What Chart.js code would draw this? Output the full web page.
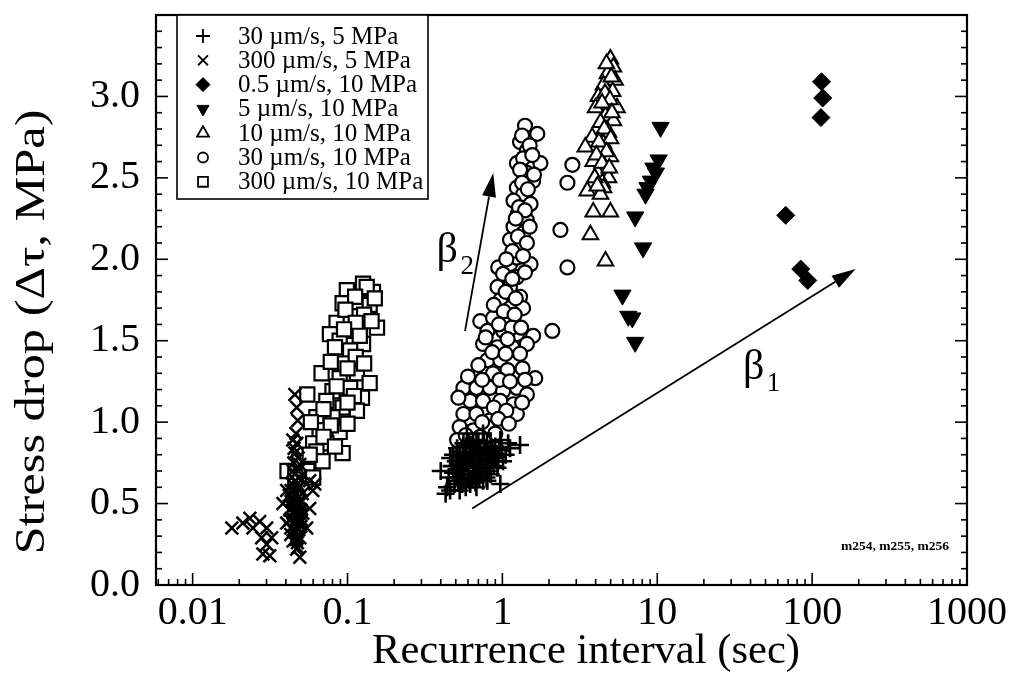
<!DOCTYPE html>
<html>
<head>
<meta charset="utf-8">
<script src="https://cdn.jsdelivr.net/npm/chart.js@4/dist/chart.umd.min.js"></script>
<style>
  html, body { margin: 0; padding: 0; background: #fff; }
</style>
</head>
<body>
<canvas id="chart" width="1015" height="675"></canvas>
<script>
// legend / series names
const seriesLabels = [
    '30 \u00b5m/s, 5 MPa',
    '300 \u00b5m/s, 5 MPa',
    '0.5 \u00b5m/s, 10 MPa',
    '5 \u00b5m/s, 10 MPa',
    '10 \u00b5m/s, 10 MPa',
    '30 \u00b5m/s, 10 MPa',
    '300 \u00b5m/s, 10 MPa'
];

// [recurrence interval (s), stress drop (MPa)]
const plus30v5 = [
    [0.40,0.70],[0.46,0.78],[0.44,0.60],[0.51,0.84],[0.53,0.72],[0.56,0.64],[0.62,0.81],
    [0.65,0.68],[0.68,0.89],[0.72,0.76],[0.80,0.84],[0.83,0.70],[0.87,0.81],[0.97,0.89],
    [0.93,0.72],[1.12,0.84],[1.01,0.76],[0.48,0.69],[0.59,0.93],[0.75,0.93],[0.53,0.58],
    [0.68,0.60],[0.59,0.76],[0.97,0.62],[1.09,0.87],[0.80,0.64],[0.43,0.56],[0.55,0.74],
    [0.60,0.70],[0.64,0.77],[0.70,0.72],[0.74,0.80],[0.78,0.70],[0.58,0.85],[0.66,0.82],
    [0.50,0.66],[0.71,0.66],[0.85,0.77],[0.62,0.62],[0.90,0.85],[0.47,0.73],[0.76,0.87],
    [1.30,0.86],[0.45,0.66],[0.49,0.62],[0.52,0.79],[0.54,0.68],[0.57,0.80],[0.58,0.60],
    [0.61,0.74],[0.63,0.86],[0.66,0.72],[0.67,0.63],[0.69,0.78],[0.72,0.84],[0.73,0.70],
    [0.77,0.76],[0.79,0.66],[0.82,0.80],[0.88,0.73],[0.92,0.79],[0.95,0.83],[1.05,0.80],
    [0.56,0.87],[0.46,0.58],[0.51,0.71],[0.64,0.65],[0.70,0.88],[0.84,0.88],[0.50,0.76],
    [0.53,0.82],[0.55,0.62],[0.57,0.70],[0.60,0.66],[0.61,0.88],[0.63,0.78],[0.65,0.74],
    [0.67,0.84],[0.69,0.69],[0.71,0.80],[0.74,0.74],[0.75,0.64],[0.78,0.82],[0.81,0.74],
    [0.84,0.68],[0.86,0.84],[0.89,0.78],[0.94,0.76],[0.99,0.84],[0.52,0.64],[0.48,0.80]
];
const cross300v5 = [
    [0.0179,0.35],[0.0211,0.38],[0.0234,0.41],[0.0245,0.35],[0.0271,0.39],[0.0301,0.35],
    [0.0279,0.29],[0.0301,0.25],[0.0284,0.19],[0.0315,0.18],[0.0324,0.29],
    [0.0405,0.58],[0.0443,0.54],[0.0492,0.50],[0.0424,0.46],[0.0515,0.44],[0.0470,0.39],
    [0.0405,0.38],[0.0546,0.35],[0.0457,0.33],[0.0492,0.29],[0.0436,0.41],[0.0570,0.47],
    [0.0383,0.50],[0.0477,0.23],[0.0492,0.17],[0.0470,0.87],[0.0457,0.81],[0.0492,0.74],
    [0.0457,0.68],[0.0457,1.17],[0.0470,1.09],[0.0477,1.01],[0.0615,0.62],[0.0597,0.58],
    [0.0570,0.64],[0.0443,0.89],[0.0450,0.45],[0.0480,0.42],[0.0460,0.52],[0.0500,0.36],
    [0.0430,0.31],[0.0510,0.56],[0.0470,0.30],[0.0440,0.62],[0.0490,0.66],[0.0420,0.55],
    [0.0455,0.58],[0.0485,0.60],[0.0440,0.48],[0.0470,0.47],[0.0500,0.46],[0.0425,0.40],
    [0.0455,0.37],[0.0485,0.34],[0.0445,0.27],[0.0475,0.26],[0.0505,0.40],[0.0465,0.56],
    [0.0430,0.35],[0.0495,0.52],[0.0460,0.43],[0.0480,0.78],[0.0450,0.75],[0.0465,0.93],
    [0.0475,0.62],[0.0435,0.52],[0.0445,0.44],[0.0460,0.40],[0.0478,0.50],[0.0490,0.44],
    [0.0450,0.34],[0.0468,0.28],[0.0488,0.38],[0.0432,0.58],[0.0462,0.64],[0.0478,0.70],
    [0.0452,0.84],[0.0470,0.22],[0.0445,0.70]
];
const diamond05v10 = [
    [115,3.09],[117,2.99],[114,2.87],[67.5,2.27],[84.4,1.94],[93.7,1.87]
];
const down5v10 = [
    [10.5,2.81],[10.2,2.61],[9.45,2.56],[9.8,2.53],[9.1,2.48],[8.65,2.44],[8.4,2.40],
    [7.2,2.26],[8.1,2.07],[5.96,1.78],[6.5,1.65],[6.9,1.64],[7.2,1.49]
];
const up10v10 = [
    [4.98,3.23],[5.21,3.18],[4.77,3.14],[5.34,3.10],[4.50,3.07],[5.15,3.03],[4.17,3.00],
    [4.84,2.96],[5.50,2.93],[4.00,2.93],[4.63,2.88],[5.21,2.85],[4.30,2.84],[4.84,2.78],
    [3.80,2.75],[4.50,2.71],[3.43,2.69],[4.30,2.67],[4.98,2.63],[3.86,2.60],[4.63,2.56],
    [4.13,2.53],[4.84,2.50],[4.42,2.47],[3.53,2.42],[4.50,2.44],[3.86,2.29],[4.98,2.29],
    [3.70,2.15],[4.63,1.99],[4.70,3.20],[5.05,3.12],[4.60,3.02],[4.95,2.98],[4.40,2.96],
    [5.10,2.90],[4.55,2.80],[5.00,2.74],[4.20,2.72],[4.70,2.66],[4.05,2.64],[4.40,2.59],
    [4.90,2.56],[3.95,2.50],[4.30,2.40],[4.10,2.45]
];
const circle30v10 = [
    [1.40,2.82],[1.68,2.77],[1.30,2.72],[1.44,2.67],[1.24,2.59],[1.76,2.59],[1.44,2.53],
    [1.24,2.44],[1.58,2.48],[1.36,2.40],[1.18,2.36],[1.52,2.34],[1.26,2.28],[1.44,2.24],
    [1.18,2.20],[1.36,2.16],[1.12,2.12],[1.30,2.07],[1.52,1.97],[0.94,1.95],[1.12,1.97],
    [1.24,2.01],[1.01,1.91],[1.24,1.89],[0.93,1.83],[1.12,1.83],[1.30,1.77],[0.97,1.75],
    [1.12,1.70],[1.36,1.70],[0.72,1.62],[0.87,1.64],[1.07,1.64],[0.80,1.56],[1.01,1.56],
    [1.24,1.54],[1.58,1.53],[2.10,1.56],[0.75,1.48],[0.93,1.46],[1.16,1.46],[1.44,1.48],
    [0.80,1.38],[0.97,1.38],[1.18,1.36],[0.87,1.30],[1.63,1.27],[0.56,1.21],[0.68,1.21],
    [0.83,1.21],[1.01,1.19],[1.24,1.21],[1.44,1.17],[0.62,1.13],[0.75,1.13],[0.97,1.13],
    [1.18,1.11],[0.56,1.05],[0.68,1.05],[0.83,1.01],[1.24,1.05],[0.53,0.97],[0.65,0.95],
    [0.80,0.97],[0.51,0.89],[0.62,0.87],[2.83,2.58],[2.63,2.47],[2.37,2.18],[2.63,1.95],
    [1.34,2.76],[1.50,2.70],[1.36,2.62],[1.56,2.64],[1.30,2.55],[1.60,2.52],[1.34,2.47],
    [1.46,2.43],[1.28,2.32],[1.40,2.30],[1.22,2.25],[1.50,2.20],[1.26,2.14],[1.44,2.10],
    [1.16,2.05],[1.36,2.02],[1.06,2.00],[1.40,1.92],[1.16,1.88],[1.05,1.80],[1.22,1.76],
    [0.88,1.72],[1.02,1.68],[1.20,1.66],[0.95,1.60],[1.15,1.58],[0.78,1.52],[1.08,1.51],
    [1.32,1.58],[0.86,1.43],[1.05,1.42],[1.30,1.42],[0.70,1.35],[1.08,1.32],[1.35,1.33],
    [0.60,1.28],[0.74,1.26],[0.96,1.26],[1.12,1.25],[1.40,1.26],[0.52,1.15],[0.88,1.09],
    [1.06,1.07],[1.34,1.12],[0.74,1.00],[0.94,1.02],[1.10,0.99],[0.58,0.92],[0.72,0.91],
    [0.90,0.93],[0.56,0.82],[0.70,0.85]
];
const square300v10 = [
    [0.126,1.85],[0.099,1.81],[0.146,1.80],[0.117,1.73],[0.093,1.73],[0.139,1.72],
    [0.104,1.65],[0.155,1.58],[0.085,1.61],[0.077,1.54],[0.108,1.56],[0.089,1.50],
    [0.126,1.48],[0.104,1.44],[0.093,1.36],[0.068,1.30],[0.115,1.30],[0.139,1.24],
    [0.089,1.27],[0.080,1.19],[0.104,1.21],[0.124,1.15],[0.055,1.17],[0.073,1.13],
    [0.093,1.09],[0.115,1.07],[0.063,1.03],[0.080,1.03],[0.066,0.95],[0.089,0.94],
    [0.060,0.87],[0.073,0.87],[0.063,0.82],[0.093,0.81],[0.069,0.76],[0.049,0.76],
    [0.041,0.70],[0.055,0.70],[0.133,1.83],[0.112,1.77],[0.150,1.76],[0.097,1.69],
    [0.128,1.66],[0.113,1.61],[0.143,1.62],[0.095,1.57],[0.120,1.53],[0.083,1.46],
    [0.113,1.40],[0.100,1.33],[0.078,1.37],[0.128,1.36],[0.085,1.22],[0.110,1.16],
    [0.070,1.08],[0.100,1.12],[0.058,1.00],[0.078,0.98],[0.100,0.99],[0.070,0.91],
    [0.083,0.85],[0.057,0.80],[0.046,0.66],[0.060,0.66]
];

// axes
const xTickValues = [0.01, 0.1, 1, 10, 100, 1000];
const yTickValues = [0, 0.5, 1.0, 1.5, 2.0, 2.5, 3.0];
const xRange = [0.0058, 1000];
const yRange = [0, 3.5];
const xTitle = 'Recurrence interval (sec)';
const yTitle = 'Stress drop (\u0394\u03c4, MPa)';

// slope arrows and their labels, in data coordinates
const betaArrows = [
    { from: [0.574, 1.56], to: [0.873, 2.53] },
    { from: [0.638, 0.47], to: [191, 1.94] }
];
const betaLabels = [
    { at: [0.44, 2.05], sub: '2' },
    { at: [41.9, 1.33], sub: '1' }
];

const SERIF = '"Liberation Serif", "DejaVu Serif", serif';
const toPts = arr => arr.map(([x, y]) => ({ x, y }));

const styles = [
    { pointStyle: 'cross', radius: 9, borderWidth: 2.6, backgroundColor: '#000' },
    { pointStyle: 'crossRot', radius: 9, borderWidth: 2.5, backgroundColor: '#000' },
    { pointStyle: 'rectRot', radius: 9, borderWidth: 1, backgroundColor: '#000' },
    { pointStyle: 'triangle', radius: 10, borderWidth: 1, backgroundColor: '#000', rotation: 180 },
    { pointStyle: 'triangle', radius: 9, borderWidth: 2, backgroundColor: '#fff' },
    { pointStyle: 'circle', radius: 7, borderWidth: 2.2, backgroundColor: '#fff' },
    { pointStyle: 'rect', radius: 10, borderWidth: 2.2, backgroundColor: '#fff' }
];
const seriesData = [plus30v5, cross300v5, diamond05v10, down5v10, up10v10, circle30v10, square300v10];

const datasets = seriesData.map((d, i) => ({
    label: seriesLabels[i],
    data: toPts(d),
    pointStyle: styles[i].pointStyle,
    pointRadius: styles[i].radius,
    pointRotation: styles[i].rotation || 0,
    pointBorderWidth: styles[i].borderWidth,
    pointBorderColor: '#000',
    pointBackgroundColor: styles[i].backgroundColor,
    showLine: false
}));

function line(ctx, x1, y1, x2, y2) {
    ctx.beginPath();
    ctx.moveTo(x1, y1);
    ctx.lineTo(x2, y2);
    ctx.stroke();
}

// text stretched along its own direction to a target length
function stretchedText(ctx, text, cx, cy, length, angle) {
    ctx.save();
    ctx.translate(cx, cy);
    ctx.rotate(angle);
    const w = ctx.measureText(text).width;
    ctx.scale(length / w, 1);
    ctx.textAlign = 'center';
    ctx.textBaseline = 'middle';
    ctx.fillText(text, 0, 0);
    ctx.restore();
}

const frameTicks = {
    id: 'frameTicks',
    afterDatasetsDraw(chart) {
        const { ctx, chartArea: a, scales: { x, y } } = chart;
        ctx.save();
        ctx.strokeStyle = '#000';
        ctx.lineWidth = 1.6;
        for (let i = 0; i <= 35; i++) {
            const py = y.getPixelForValue(i / 10);
            const len = i % 5 === 0 ? 12 : 6;
            line(ctx, a.left, py, a.left + len, py);
            line(ctx, a.right, py, a.right - len, py);
        }
        for (let e = -3; e <= 3; e++) {
            for (let m = 1; m <= 9; m++) {
                const v = m * Math.pow(10, e);
                if (v < x.min || v > x.max * 1.0001) continue;
                const px = x.getPixelForValue(v);
                line(ctx, px, a.bottom, px, a.bottom - (m === 1 ? 12 : 6));
            }
        }
        ctx.lineWidth = 2.2;
        ctx.strokeRect(a.left, a.top, a.right - a.left, a.bottom - a.top);

        // axis titles
        ctx.fillStyle = '#000';
        ctx.font = '42px ' + SERIF;
        stretchedText(ctx, xTitle, 586, 652, 428, 0);
        stretchedText(ctx, yTitle, 33, 332, 445, -Math.PI / 2);
        ctx.restore();
    }
};

const annotations = {
    id: 'annotations',
    afterDatasetsDraw(chart) {
        const { ctx, chartArea: a, scales: { x, y } } = chart;
        ctx.save();
        ctx.strokeStyle = '#000';
        ctx.fillStyle = '#000';
        ctx.lineWidth = 1.8;
        for (const arr of betaArrows) {
            const x1 = x.getPixelForValue(arr.from[0]), y1 = y.getPixelForValue(arr.from[1]);
            const x2 = x.getPixelForValue(arr.to[0]), y2 = y.getPixelForValue(arr.to[1]);
            const ang = Math.atan2(y2 - y1, x2 - x1);
            const hl = 24, hw = 7;
            const bx = x2 - hl * Math.cos(ang), by = y2 - hl * Math.sin(ang);
            line(ctx, x1, y1, bx, by);
            ctx.beginPath();
            ctx.moveTo(x2, y2);
            ctx.lineTo(bx + hw * Math.sin(ang), by - hw * Math.cos(ang));
            ctx.lineTo(bx - hw * Math.sin(ang), by + hw * Math.cos(ang));
            ctx.closePath();
            ctx.fill();
        }
        ctx.textBaseline = 'middle';
        ctx.textAlign = 'center';
        for (const b of betaLabels) {
            const px = x.getPixelForValue(b.at[0]), py = y.getPixelForValue(b.at[1]);
            ctx.font = '42px ' + SERIF;
            ctx.fillText('\u03b2', px, py);
            ctx.font = '27px ' + SERIF;
            ctx.fillText(b.sub, px + 20, py + 16);
        }
        ctx.font = 'bold 13.5px ' + SERIF;
        ctx.textAlign = 'right';
        ctx.fillText('m254, m255, m256', a.right - 18, a.bottom - 38);

        // legend box
        const lx = a.left + 21, ly = a.top, lw = 251, lh = 184;
        ctx.fillStyle = '#fff';
        ctx.fillRect(lx, ly, lw, lh);
        ctx.lineWidth = 1.6;
        ctx.strokeRect(lx, ly, lw, lh);
        ctx.textAlign = 'left';
        ctx.font = '25px ' + SERIF;
        chart.data.datasets.forEach((ds, i) => {
            const cy = ly + 21 + i * 24.3;
            ctx.fillStyle = styles[i].backgroundColor;
            ctx.strokeStyle = '#000';
            ctx.lineWidth = Math.min(styles[i].borderWidth, 1.8);
            Chart.helpers.drawPoint(ctx, {
                pointStyle: styles[i].pointStyle,
                rotation: styles[i].rotation || 0,
                radius: styles[i].pointStyle === 'circle' ? 5 : 7,
                borderWidth: styles[i].borderWidth
            }, lx + 26, cy);
            ctx.fillStyle = '#000';
            ctx.fillText(ds.label, lx + 61, cy + 1);
        });
        ctx.restore();
    }
};

new Chart(document.getElementById('chart'), {
    type: 'scatter',
    data: { datasets },
    options: {
        responsive: false,
        devicePixelRatio: 1,
        animation: false,
        layout: { padding: { left: 0, top: 15, right: 48, bottom: 0 } },
        plugins: { legend: { display: false }, tooltip: { enabled: false } },
        scales: {
            x: {
                type: 'logarithmic',
                min: xRange[0],
                max: xRange[1],
                grid: { display: false, drawTicks: false },
                border: { display: false },
                afterBuildTicks: s => { s.ticks = xTickValues.map(v => ({ value: v })); },
                afterFit: s => { s.height = 90; s.paddingLeft = 0; s.paddingRight = 0; },
                ticks: {
                    autoSkip: false,
                    maxRotation: 0,
                    padding: 4,
                    color: '#000',
                    font: { family: SERIF, size: 40 },
                    callback: v => String(v)
                }
            },
            y: {
                min: yRange[0],
                max: yRange[1],
                grid: { display: false, drawTicks: false },
                border: { display: false },
                afterBuildTicks: s => { s.ticks = yTickValues.map(v => ({ value: v })); },
                afterFit: s => { s.width = 156; s.paddingTop = 0; s.paddingBottom = 0; },
                ticks: {
                    padding: 16,
                    color: '#000',
                    font: { family: SERIF, size: 40 },
                    callback: v => Number(v).toFixed(1)
                }
            }
        }
    },
    plugins: [frameTicks, annotations]
});
</script>
</body>
</html>
